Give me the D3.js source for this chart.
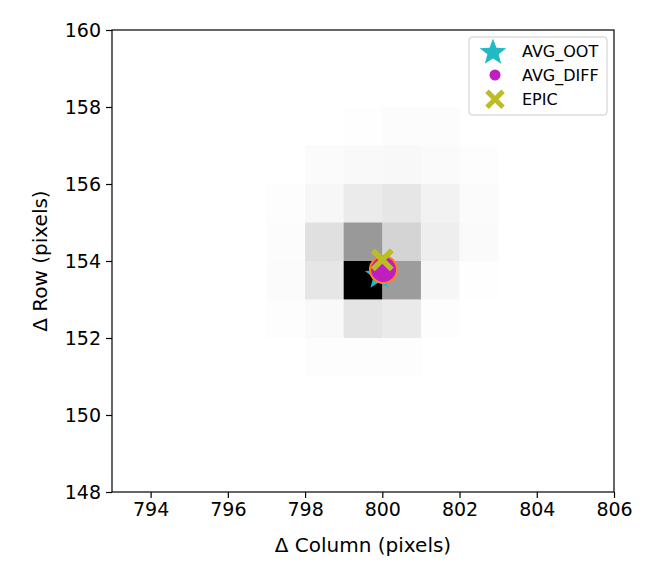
<!DOCTYPE html>
<html><head><meta charset="utf-8">
<script src="https://cdn.jsdelivr.net/npm/d3@7/dist/d3.min.js"></script>
<style>body{margin:0;background:#fff}svg{font-family:"DejaVu Sans",sans-serif}</style>
</head><body>
<script>
// pixel grid: columns (lower-left corner) and rows (lower edge), normalized flux
const gridCols = [797, 798, 799, 800, 801, 802];
const gridRows = [157, 156, 155, 154, 153, 152, 151];
const gridFlux = [
  [0.000, 0.000, 0.004, 0.010, 0.010, 0.000],
  [0.000, 0.014, 0.022, 0.026, 0.018, 0.006],
  [0.006, 0.030, 0.080, 0.100, 0.050, 0.014],
  [0.012, 0.120, 0.400, 0.170, 0.067, 0.020],
  [0.016, 0.098, 1.000, 0.390, 0.035, 0.004],
  [0.008, 0.024, 0.106, 0.082, 0.006, 0.000],
  [0.000, 0.008, 0.008, 0.008, 0.000, 0.000]
];
const avgOOT = [799.92, 153.62];
const avgDIFF = [800.03, 153.78];
const epic = [800.0, 154.03];
const xTicks = [794, 796, 798, 800, 802, 804, 806];
const yTicks = [148, 150, 152, 154, 156, 158, 160];
const legendLabels = ["AVG_OOT", "AVG_DIFF", "EPIC"];

const W = 646, H = 576;
const m = {left: 112, right: 32, top: 30, bottom: 84};
const svg = d3.select("body").append("svg").attr("width", W).attr("height", H);
const x = d3.scaleLinear().domain([793, 806]).range([m.left, W - m.right]);
const y = d3.scaleLinear().domain([148, 160]).range([H - m.bottom, m.top]);
const grey = d3.scaleLinear().domain([0, 1]).range(["#ffffff", "#000000"]);

const cells = [];
gridRows.forEach((r, i) => gridCols.forEach((c, j) => cells.push({c, r, v: gridFlux[i][j]})));
svg.append("g").selectAll("rect").data(cells.filter(d => d.v > 0)).join("rect")
  .attr("x", d => x(d.c)).attr("y", d => y(d.r + 1))
  .attr("width", d => x(d.c + 1) - x(d.c) + 0.3)
  .attr("height", d => y(d.r) - y(d.r + 1) + 0.3)
  .attr("fill", d => grey(d.v));

const starPath = (R) => {
  const pts = [];
  for (let k = 0; k < 10; k++) {
    const a = -Math.PI / 2 + k * Math.PI / 5;
    const rr = k % 2 === 0 ? R : R * 0.42;
    pts.push([rr * Math.cos(a), rr * Math.sin(a)]);
  }
  return "M" + pts.map(p => p.join(",")).join("L") + "Z";
};
const xMark = (g, s, w) => {
  g.append("line").attr("x1", -s).attr("y1", -s).attr("x2", s).attr("y2", s)
    .attr("stroke", "#bcbd22").attr("stroke-width", w);
  g.append("line").attr("x1", -s).attr("y1", s).attr("x2", s).attr("y2", -s)
    .attr("stroke", "#bcbd22").attr("stroke-width", w);
};

// markers
svg.append("path").attr("d", starPath(15))
  .attr("transform", `translate(${x(avgOOT[0])},${y(avgOOT[1])})`)
  .attr("fill", "#1fbac6");
svg.append("circle").attr("cx", x(avgDIFF[0])).attr("cy", y(avgDIFF[1])).attr("r", 13.5)
  .attr("fill", "#c01fc0").attr("stroke", "#ff7f2a").attr("stroke-width", 2);
xMark(svg.append("g").attr("transform", `translate(${x(epic[0])},${y(epic[1])})`), 9.5, 5.5);

// frame
svg.append("rect").attr("x", m.left).attr("y", m.top)
  .attr("width", W - m.left - m.right).attr("height", H - m.top - m.bottom)
  .attr("fill", "none").attr("stroke", "#000").attr("stroke-width", 1.2);

const xa = svg.append("g").attr("transform", `translate(0,${H - m.bottom})`)
  .call(d3.axisBottom(x).tickValues(xTicks).tickSize(6).tickPadding(5).tickFormat(d3.format("d")));
const ya = svg.append("g").attr("transform", `translate(${m.left},0)`)
  .call(d3.axisLeft(y).tickValues(yTicks).tickSize(6).tickPadding(5).tickFormat(d3.format("d")));
[xa, ya].forEach(a => {
  a.select(".domain").remove();
  a.selectAll("text").attr("font-size", 19).attr("fill", "#000").attr("font-family", "DejaVu Sans");
  a.selectAll("line").attr("stroke", "#000").attr("stroke-width", 1.2);
});

svg.append("text").attr("x", (x(793) + x(806)) / 2).attr("y", 552).attr("text-anchor", "middle")
  .attr("font-size", 20).text("Δ Column (pixels)");
svg.append("text").attr("transform", `translate(47,${(y(148) + y(160)) / 2}) rotate(-90)`)
  .attr("text-anchor", "middle").attr("font-size", 20).text("Δ Row (pixels)");

// legend
const lg = svg.append("g");
lg.append("rect").attr("x", 469).attr("y", 37).attr("width", 138).attr("height", 78).attr("rx", 3)
  .attr("fill", "#fff").attr("fill-opacity", 0.8).attr("stroke", "#cccccc").attr("stroke-width", 1);
const ly = [51.5, 75, 99.3];
lg.append("path").attr("d", starPath(14)).attr("transform", `translate(493,${ly[0] + 1})`).attr("fill", "#1fbac6");
lg.append("circle").attr("cx", 495).attr("cy", ly[1]).attr("r", 5.5).attr("fill", "#c01fc0");
xMark(lg.append("g").attr("transform", `translate(495,${ly[2]})`), 8, 5);
legendLabels.forEach((t, i) => lg.append("text").attr("x", 522).attr("y", ly[i]).attr("dy", "0.36em")
  .attr("font-size", 16).text(t));
</script>
</body></html>
